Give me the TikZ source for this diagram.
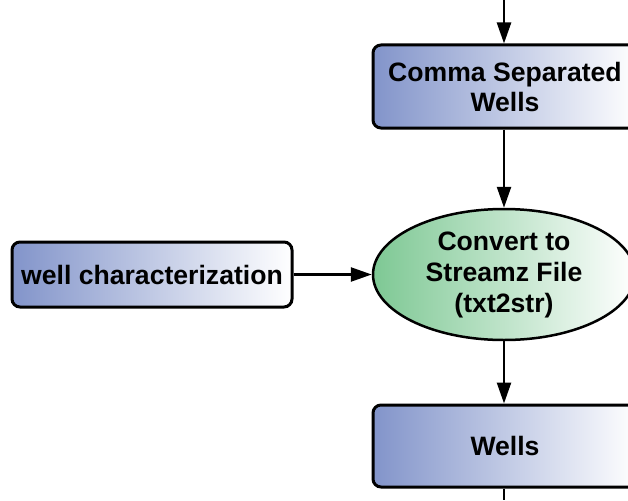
\documentclass[tikz,border=0pt]{standalone}
\usepackage{fontspec}
\setmainfont{Liberation Sans}
\usetikzlibrary{shapes.geometric, arrows.meta, calc}
\definecolor{data-blue}{RGB}{130,148,202}
\definecolor{proc-green}{RGB}{126,200,148}
\tikzset{
    databox/.style = {
        draw, line width=3pt, rounded corners=8pt,
        left color=data-blue, right color=white,
        inner sep=0pt, align=center,
        font=\bfseries\fontsize{26.6}{30}\selectfont
    },
    procnode/.style = {
        ellipse, draw, line width=2.5pt,
        left color=proc-green, right color=white,
        inner sep=0pt, align=center,
        font=\bfseries\fontsize{26.6}{31}\selectfont
    },
    flow/.style = {-{Triangle[length=21pt,width=14pt]}, line width=2.5pt},
}

\begin{document}
\begin{tikzpicture}[x=1pt,y=-1pt]
\useasboundingbox (0,0) rectangle (628,500);
\clip (0,0) rectangle (628,500);

% data and process nodes
\node[databox, minimum width=264pt, minimum height=83pt] (csv) at (505,86.5) {Comma Separated\\Wells};
\node[procnode, minimum width=262pt, minimum height=131pt] (txt2str) at (504,274.5) {Convert to\\Streamz File\\(txt2str)};
\node[databox, minimum width=280pt, minimum height=65pt] (wchar) at (152,274.5) {well characterization};
\node[databox, minimum width=264pt, minimum height=82pt] (wells) at (505,446) {Wells};

\coordinate (in)  at (504,0);
\coordinate (out) at (504,500);

% flow
\draw[flow] (in) -- (in |- csv.north);
\draw[flow] (txt2str.north |- csv.south) -- (txt2str.north);
\draw[flow] (wchar.east) -- (txt2str.west);
\draw[flow] (txt2str.south) -- (txt2str.south |- wells.north);
\draw[line width=2.5pt] (out |- wells.south) -- (out);
\end{tikzpicture}
\end{document}
